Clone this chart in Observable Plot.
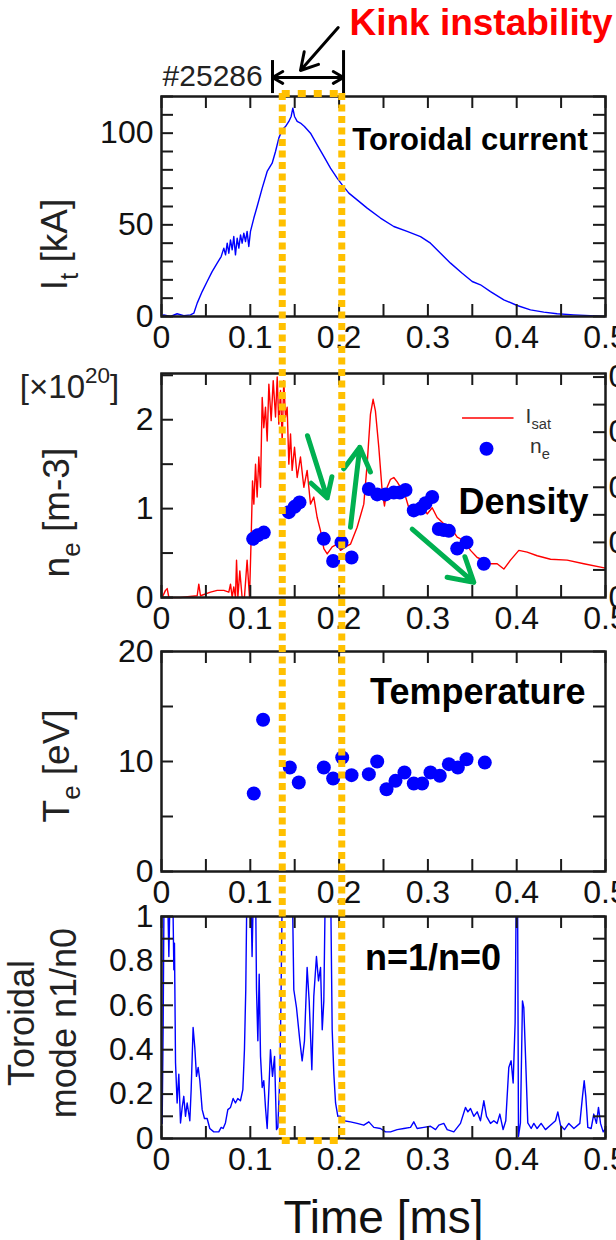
<!DOCTYPE html>
<html><head><meta charset="utf-8">
<script src="https://cdn.jsdelivr.net/npm/d3@7"></script>
<script src="https://cdn.jsdelivr.net/npm/@observablehq/plot@0.6"></script>
<style>
body{margin:0;background:#fff;}
#page{position:relative;width:616px;height:1240px;overflow:hidden;background:#fff;}
#page svg{position:absolute;left:0;overflow:visible;}
</style></head><body><div id="page"></div>
<script>
// ---------- data ----------
const currentT = [0,0.0026,0.0101,0.0176,0.0251,0.0326,0.0364,0.0402,0.0458,0.0514,0.057,0.0627,0.0672,0.0702,0.0721,0.074,0.0758,0.0777,0.0796,0.0814,0.0833,0.0852,0.0871,0.089,0.0908,0.0927,0.0946,0.0964,0.0983,0.1002,0.104,0.1077,0.1134,0.119,0.1246,0.1284,0.1321,0.1359,0.1396,0.1434,0.146,0.1479,0.1498,0.1528,0.1565,0.161,0.1678,0.1753,0.1828,0.1903,0.1978,0.2035,0.211,0.2203,0.2316,0.2466,0.2616,0.2766,0.2917,0.3029,0.3142,0.3255,0.3386,0.3499,0.3592,0.3705,0.3855,0.4005,0.4155,0.4305,0.4455,0.4643,0.483,0.5];
const currentI = [0,0.9,0,1.5,0.5,0.9,1.8,7.3,13.6,19.1,24.5,29.1,32.7,37.3,33.6,40,34.5,41.8,36.4,43.6,33.6,42.7,37.3,44.5,40,45.5,40.9,46.4,38.2,46.4,53.7,60,70,79.1,83.6,90,97.3,101.8,103.6,106.4,109.1,113.6,109.1,106.4,105.5,103.6,100,93.6,87.3,80.9,75.5,71.8,67.3,63.6,59.1,53.7,49.1,46.4,43.6,40,34.5,29.1,23.6,19.1,17.3,13.6,9.1,6.0,3.6,2.4,1.5,0.9,0.5,0];

const isatT = [0.00075,0.0045,0.0064,0.0083,0.0214,0.0402,0.042,0.0439,0.0552,0.0627,0.0702,0.0758,0.0777,0.0796,0.0814,0.0833,0.0845,0.086,0.0882,0.0908,0.0934,0.0964,0.0991,0.101,0.1025,0.104,0.1059,0.1077,0.1096,0.1115,0.1134,0.1152,0.1171,0.119,0.1209,0.1235,0.1258,0.1284,0.1303,0.1321,0.134,0.1359,0.1377,0.1396,0.1415,0.1434,0.1453,0.1471,0.1498,0.1528,0.1565,0.1603,0.164,0.1678,0.1715,0.1753,0.1791,0.1828,0.1866,0.1922,0.1978,0.2016,0.2072,0.2128,0.2203,0.2278,0.2316,0.2353,0.2383,0.2409,0.2447,0.2485,0.2511,0.2541,0.2579,0.2616,0.2654,0.2692,0.2729,0.2785,0.2841,0.2917,0.2992,0.3048,0.3104,0.3179,0.3255,0.333,0.3405,0.348,0.3555,0.363,0.3705,0.378,0.3855,0.393,0.4024,0.4118,0.4231,0.4381,0.4568,0.4756,0.5];
const isatV = [0,0.08,0.1,0,0,0.02,0.15,0.02,0.06,0.08,0.08,0.06,0.15,0,0.12,0,0.42,0,0.3,0,0,0.42,0,0.68,1.31,1.05,1.5,1.13,1.58,1.24,2.25,1.91,2.14,1.76,2.4,1.99,2.44,2.03,2.48,1.95,2.33,1.76,2.44,2.03,2.14,1.5,1.84,1.43,1.69,1.35,1.58,1.24,1.43,1.05,1.13,0.9,0.75,0.55,0.49,0.57,0.6,0.53,0.57,0.6,0.79,1.05,1.5,2.06,2.23,2.1,1.69,1.2,1.03,1.24,1.33,1.35,1.3,1.24,1.2,1.01,0.98,1.05,0.94,1.01,0.9,0.83,0.79,0.68,0.64,0.53,0.45,0.42,0.38,0.38,0.32,0.42,0.53,0.51,0.47,0.43,0.42,0.38,0.33];

const neT = [0.1032,0.1084,0.1152,0.1434,0.1498,0.1554,0.1828,0.1933,0.2027,0.214,0.2335,0.2429,0.2523,0.2616,0.2684,0.2748,0.2841,0.2917,0.2973,0.3048,0.3123,0.3179,0.3236,0.333,0.3435,0.363];
const neV = [0.66,0.70,0.73,0.96,1.02,1.07,0.66,0.41,0.62,0.45,1.22,1.16,1.16,1.18,1.18,1.21,0.98,1.0,1.06,1.13,0.77,0.76,0.75,0.55,0.62,0.38];

const teT = [0.1039,0.1144,0.1445,0.1546,0.1828,0.1933,0.2035,0.214,0.2335,0.2429,0.2534,0.2635,0.2736,0.2841,0.2935,0.3029,0.3134,0.3236,0.3337,0.3435,0.3641];
const teV = [7.09,13.79,9.45,8.09,9.45,8.45,10.36,8.76,8.85,10.0,7.48,8.24,9.0,8.0,8.0,9.0,8.7,9.76,9.45,10.2,9.9];

const modeT = [0.00075,0.0019,0.003,0.0064,0.0083,0.0101,0.0124,0.0139,0.0146,0.0158,0.0176,0.0195,0.0214,0.0233,0.0251,0.027,0.0289,0.0319,0.0334,0.0356,0.0375,0.0394,0.0413,0.0432,0.0458,0.0484,0.0514,0.0544,0.0589,0.0645,0.0672,0.0694,0.072,0.0747,0.0777,0.0807,0.0833,0.0859,0.0889,0.0916,0.0934,0.0949,0.0964,0.1002,0.102,0.1039,0.1058,0.107,0.1085,0.11,0.1115,0.1134,0.1152,0.1171,0.119,0.1209,0.1227,0.125,0.1273,0.1295,0.131,0.1333,0.1347,0.1362,0.1471,0.149,0.152,0.1558,0.1584,0.161,0.164,0.1663,0.1693,0.1715,0.1745,0.1768,0.1791,0.181,0.1828,0.1847,0.1903,0.1922,0.1941,0.196,0.1986,0.2016,0.2053,0.2128,0.2203,0.2278,0.2335,0.2391,0.2466,0.2523,0.2579,0.2654,0.2729,0.2804,0.2841,0.2879,0.2954,0.3029,0.3086,0.3123,0.3179,0.3217,0.3292,0.3367,0.3423,0.345,0.348,0.3517,0.3555,0.3592,0.363,0.366,0.3705,0.3742,0.378,0.381,0.3847,0.3877,0.3911,0.3937,0.396,0.3982,0.3997,0.4009,0.402,0.4042,0.4065,0.408,0.4102,0.4125,0.4163,0.4193,0.423,0.4275,0.4324,0.438,0.4437,0.4463,0.4493,0.4538,0.4587,0.4644,0.4711,0.4741,0.476,0.4778,0.4801,0.4838,0.4868,0.4898,0.4921,0.4944,0.4974,0.5];
const modeV = [0.068,0.52,1.2,1.2,0.82,1.2,1.2,0.76,0.88,0.34,0.16,0.29,0.07,0.14,0.19,0.10,0.16,0.08,0.22,0.50,0.41,0.28,0.32,0.26,0.13,0.09,0.09,0.045,0.03,0.03,0.05,0.045,0.07,0.13,0.14,0.18,0.16,0.18,0.17,0.22,0.40,0.67,1.2,1.2,0.82,1.2,1.2,0.67,0.44,0.74,0.37,0.23,0.26,0.14,0.045,0.22,0.40,0.28,0.37,0.04,0.05,0.28,0.67,1.2,1.2,0.67,0.59,0.44,0.35,0.44,0.77,0.62,0.31,0.64,0.82,0.71,0.77,0.49,0.62,1.2,1.2,0.49,0.29,0.16,0.10,0.10,0.08,0.075,0.068,0.06,0.075,0.05,0.045,0.03,0.03,0.04,0.045,0.05,0.075,0.045,0.05,0.055,0.04,0.06,0.068,0.04,0.03,0.068,0.14,0.12,0.135,0.10,0.12,0.08,0.17,0.10,0.068,0.08,0.068,0.11,0.04,0.08,0.32,0.35,0.25,0.52,1.2,1.2,0.01,0.07,0.62,0.59,0.34,0.07,0.045,0.068,0.045,0.068,0.04,0.06,0.08,0.12,0.06,0.04,0.068,0.045,0.068,0.19,0.26,0.19,0.05,0.045,0.11,0.068,0.14,0.068,0.03,0.045];

// tick values
const xMajor = [0,0.1,0.2,0.3,0.4,0.5];
const xMinor = [0,0.05,0.1,0.15,0.2,0.25,0.3,0.35,0.4,0.45,0.5];
const iMajor = [0,50,100], iMinor = [0,10,20,30,40,50,60,70,80,90,100,110,120];
const nMajor = [0,1,2], nMinor = [0,0.5,1,1.5,2,2.5];
const isatScale = 6.2;
const isatMajor = [0,0.1,0.2,0.3,0.4], isatMinor = [0.05,0.1,0.15,0.2,0.25,0.3,0.35,0.4];
const tMajor = [0,10,20], tMinor = [0,5,10,15,20];
const mMajor = [0,0.2,0.4,0.6,0.8,1], mMinor = [0,0.1,0.2,0.3,0.4,0.5,0.6,0.7,0.8,0.9,1];

// annotations
const kinkWindow = [0.136, 0.203];
const kinkBars = [{x:0.125, y1:121.6, y2:139.6},{x:0.205, y1:120.5, y2:145}];
const kinkSpan = [{x1:0.165, x2:0.125, y:130.4},{x1:0.165, x2:0.205, y:130.4}];
const kinkPointer = [{x1:0.199, y1:157.6, x2:0.1565, y2:134.2}];
const trendArrows = [
  {x1:0.1644, y1:1.82, x2:0.1866, y2:1.12},
  {x1:0.2128, y1:0.79, x2:0.2233, y2:1.69},
  {x1:0.2823, y1:0.77, x2:0.3517, y2:0.17}
];

// ---------- helpers ----------
const W = 616, ML = 161, MR = 11;
const FONT = '"Liberation Sans", Arial, Helvetica, sans-serif';
const BLUE = "#0000ff", RED = "#ff0000", INK = "#1a1a1a";
const page = document.getElementById("page");
const zipTV = (T, V) => T.map((t, i) => ({t, v: V[i]}));
const fmtX = d => d === 0 ? "0" : d.toFixed(1);

function rich(svg) {
  d3.select(svg).selectAll("text").each(function() {
    const s = this.textContent;
    if (!/[_^]\{/.test(s) || this.querySelector("tspan")) return;
    const fs = parseFloat(getComputedStyle(this).fontSize);
    const parts = []; const re = /([_^])\{([^}]*)\}/g; let last = 0, m;
    while ((m = re.exec(s))) {
      if (m.index > last) parts.push({t: s.slice(last, m.index)});
      parts.push({t: m[2], k: m[1]}); last = re.lastIndex;
    }
    if (last < s.length) parts.push({t: s.slice(last)});
    this.textContent = "";
    let shift = 0;
    for (const p of parts) {
      const ts = document.createElementNS("http://www.w3.org/2000/svg", "tspan");
      let target = 0, size = fs;
      if (p.k === "_") { target = 0.3 * fs; size = 0.7 * fs; }
      else if (p.k === "^") { target = -0.45 * fs; size = 0.68 * fs; }
      ts.setAttribute("dy", target - shift); shift = target;
      ts.setAttribute("font-size", size);
      ts.textContent = p.t;
      this.appendChild(ts);
    }
  });
}

function panel({top, height, mTop, mBottom, yDomain, yMinor, yMajor, yFmt, rightMinor, marks}) {
  const fh = height - mTop - mBottom, fw = W - ML - MR;
  const tx = 0.5 * 12 / fw, ty = (yDomain[1] - yDomain[0]) * 12 / fh;
  const tick = {stroke: INK, strokeWidth: 2};
  const svg = Plot.plot({
    width: W, height, marginLeft: ML, marginRight: MR, marginTop: mTop, marginBottom: mBottom,
    x: {domain: [0, 0.5]}, y: {domain: yDomain},
    style: {fontFamily: FONT, background: "transparent", color: "#111", overflow: "visible"},
    marks: [
      ...marks,
      Plot.ruleX(xMinor, {x: d => d, y1: yDomain[0], y2: yDomain[0] + ty, ...tick}),
      Plot.ruleX(xMinor, {x: d => d, y1: yDomain[1] - ty, y2: yDomain[1], ...tick}),
      Plot.ruleY(yMinor, {y: d => d, x1: 0, x2: tx, ...tick}),
      Plot.ruleY(rightMinor || yMinor, {y: d => d, x1: 0.5 - tx, x2: 0.5, ...tick}),
      Plot.frame({stroke: INK, strokeWidth: 2.5}),
      Plot.axisX({ticks: xMajor, tickSize: 0, tickPadding: 9, fontSize: 32, label: null, tickFormat: fmtX}),
      Plot.axisY({ticks: yMajor, tickSize: 0, tickPadding: 8, fontSize: 32, label: null, tickFormat: yFmt})
    ]
  });
  svg.style.top = top + "px";
  page.appendChild(svg);
  rich(svg);
  return svg;
}

// ---------- panel 1: toroidal current ----------
panel({
  top: 0, height: 350, mTop: 96, mBottom: 34, yDomain: [0, 120], yMinor: iMinor, yMajor: iMajor, yFmt: d => String(d),
  marks: [
    Plot.line(zipTV(currentT, currentI), {x: "t", y: "v", stroke: BLUE, strokeWidth: 1.4}),
    Plot.text(["Toroidal current"], {x: 0.48, y: 91, text: d => d, textAnchor: "end", lineAnchor: "bottom", fontSize: 31, fontWeight: "bold", fill: "#000"}),
    Plot.text(["I_{t} [kA]"], {x: 0, y: 39.3, dx: -106, text: d => d, rotate: -90, textAnchor: "middle", fontSize: 37, fill: "#222"}),
    Plot.text(["#25286"], {x: 0.114, y: 126, text: d => d, textAnchor: "end", lineAnchor: "bottom", fontSize: 30, fill: "#222"}),
    Plot.text(["Kink instability"], {x: 0.508, y: 153.3, text: d => d, textAnchor: "end", lineAnchor: "bottom", fontSize: 37, fontWeight: "bold", fill: RED}),
    Plot.ruleX(kinkBars, {x: "x", y1: "y1", y2: "y2", stroke: "#000", strokeWidth: 3}),
    Plot.arrow(kinkSpan, {x1: "x1", x2: "x2", y1: "y", y2: "y", stroke: "#000", strokeWidth: 3, headLength: 18, headAngle: 60}),
    Plot.arrow(kinkPointer, {x1: "x1", y1: "y1", x2: "x2", y2: "y2", stroke: "#000", strokeWidth: 3, headLength: 18, headAngle: 60})
  ]
});

// ---------- panel 2: density ----------
panel({
  top: 340, height: 300, mTop: 33, mBottom: 43, yDomain: [0, 2.52], yMinor: nMinor, yMajor: nMajor, yFmt: d => String(d),
  rightMinor: isatMinor.map(v => v * isatScale),
  marks: [
    Plot.line(zipTV(isatT, isatV), {x: "t", y: "v", stroke: RED, strokeWidth: 1.4}),
    Plot.dot(zipTV(neT, neV), {x: "t", y: "v", r: 7, fill: BLUE, stroke: "none"}),
    Plot.arrow(trendArrows, {x1: "x1", y1: "y1", x2: "x2", y2: "y2", stroke: "#00b050", strokeWidth: 5, headLength: 18, headAngle: 60}),
    Plot.ruleY([2.02], {y: d => d, x1: 0.339, x2: 0.397, stroke: RED, strokeWidth: 1.6}),
    Plot.text(["I_{sat}"], {x: 0.41, y: 2.04, text: d => d, textAnchor: "start", fontSize: 21, fill: "#333"}),
    Plot.dot([1.674], {x: 0.366, y: d => d, r: 7, fill: BLUE}),
    Plot.text(["n_{e}"], {x: 0.415, y: 1.7, text: d => d, textAnchor: "start", fontSize: 21, fill: "#333"}),
    Plot.text(["Density"], {x: 0.481, y: 0.944, text: d => d, textAnchor: "end", lineAnchor: "bottom", fontSize: 36, fontWeight: "bold", fill: "#000"}),
    Plot.text(["n_{e} [m-3]"], {x: 0, y: 0.955, dx: -104, text: d => d, rotate: -90, textAnchor: "middle", fontSize: 37, fill: "#222"}),
    Plot.text(["[×10^{20}]"], {x: 0, y: 2.247, dx: -92, text: d => d, textAnchor: "middle", lineAnchor: "bottom", fontSize: 33, fill: "#222"}),
    Plot.axisY({anchor: "right", ticks: isatMajor.map(v => v * isatScale), tickFormat: d => (d / isatScale).toFixed(1), tickSize: 0, tickPadding: 3, fontSize: 32, label: null})
  ]
});

// ---------- panel 3: temperature ----------
panel({
  top: 620, height: 290, mTop: 31, mBottom: 39, yDomain: [0, 20], yMinor: tMinor, yMajor: tMajor, yFmt: d => String(d),
  marks: [
    Plot.dot(zipTV(teT, teV), {x: "t", y: "v", r: 7, fill: BLUE, stroke: "none"}),
    Plot.text(["Temperature"], {x: 0.4775, y: 15.2, text: d => d, textAnchor: "end", lineAnchor: "bottom", fontSize: 36, fontWeight: "bold", fill: "#000"}),
    Plot.text(["T_{e} [eV]"], {x: 0, y: 9.6, dx: -104, text: d => d, rotate: -90, textAnchor: "middle", fontSize: 37, fill: "#222"})
  ]
});

// ---------- panel 4: toroidal mode ----------
panel({
  top: 890, height: 350, mTop: 26, mBottom: 102, yDomain: [0, 1], yMinor: mMinor, yMajor: mMajor,
  yFmt: d => (d === 0 || d === 1) ? String(d) : d.toFixed(1),
  marks: [
    Plot.line(zipTV(modeT, modeV), {x: "t", y: "v", stroke: BLUE, strokeWidth: 1.4, clip: true}),
    Plot.text(["n=1/n=0"], {x: 0.3058, y: 0.758, text: d => d, textAnchor: "middle", lineAnchor: "bottom", fontSize: 36, fontWeight: "bold", fill: "#000"}),
    Plot.text(["Toroidal\nmode n1/n0"], {x: 0, y: 0.52, dx: -120, text: d => d, rotate: -90, textAnchor: "middle", lineHeight: 1.17, fontSize: 36, fill: "#222"}),
    Plot.text(["Time [ms]"], {frameAnchor: "bottom", dy: 94, text: d => d, textAnchor: "middle", lineAnchor: "bottom", fontSize: 46, fill: "#111"})
  ]
});

// ---------- overlay: kink window ----------
const overlay = Plot.plot({
  width: W, height: 1240, marginLeft: ML, marginRight: MR, marginTop: 93, marginBottom: 100,
  x: {domain: [0, 0.5], axis: null}, y: {domain: [0, 1], axis: null},
  style: {background: "transparent", overflow: "visible"},
  marks: [
    Plot.ruleX(kinkWindow, {x: d => d, stroke: "#ffc000", strokeWidth: 7, strokeDasharray: "7,4.5"}),
    Plot.ruleY([0, 1], {y: d => d, x1: kinkWindow[0], x2: kinkWindow[1], stroke: "#ffc000", strokeWidth: 7, strokeDasharray: "8,8"})
  ]
});
overlay.style.top = "0px";
overlay.style.pointerEvents = "none";
page.appendChild(overlay);
</script></body></html>
